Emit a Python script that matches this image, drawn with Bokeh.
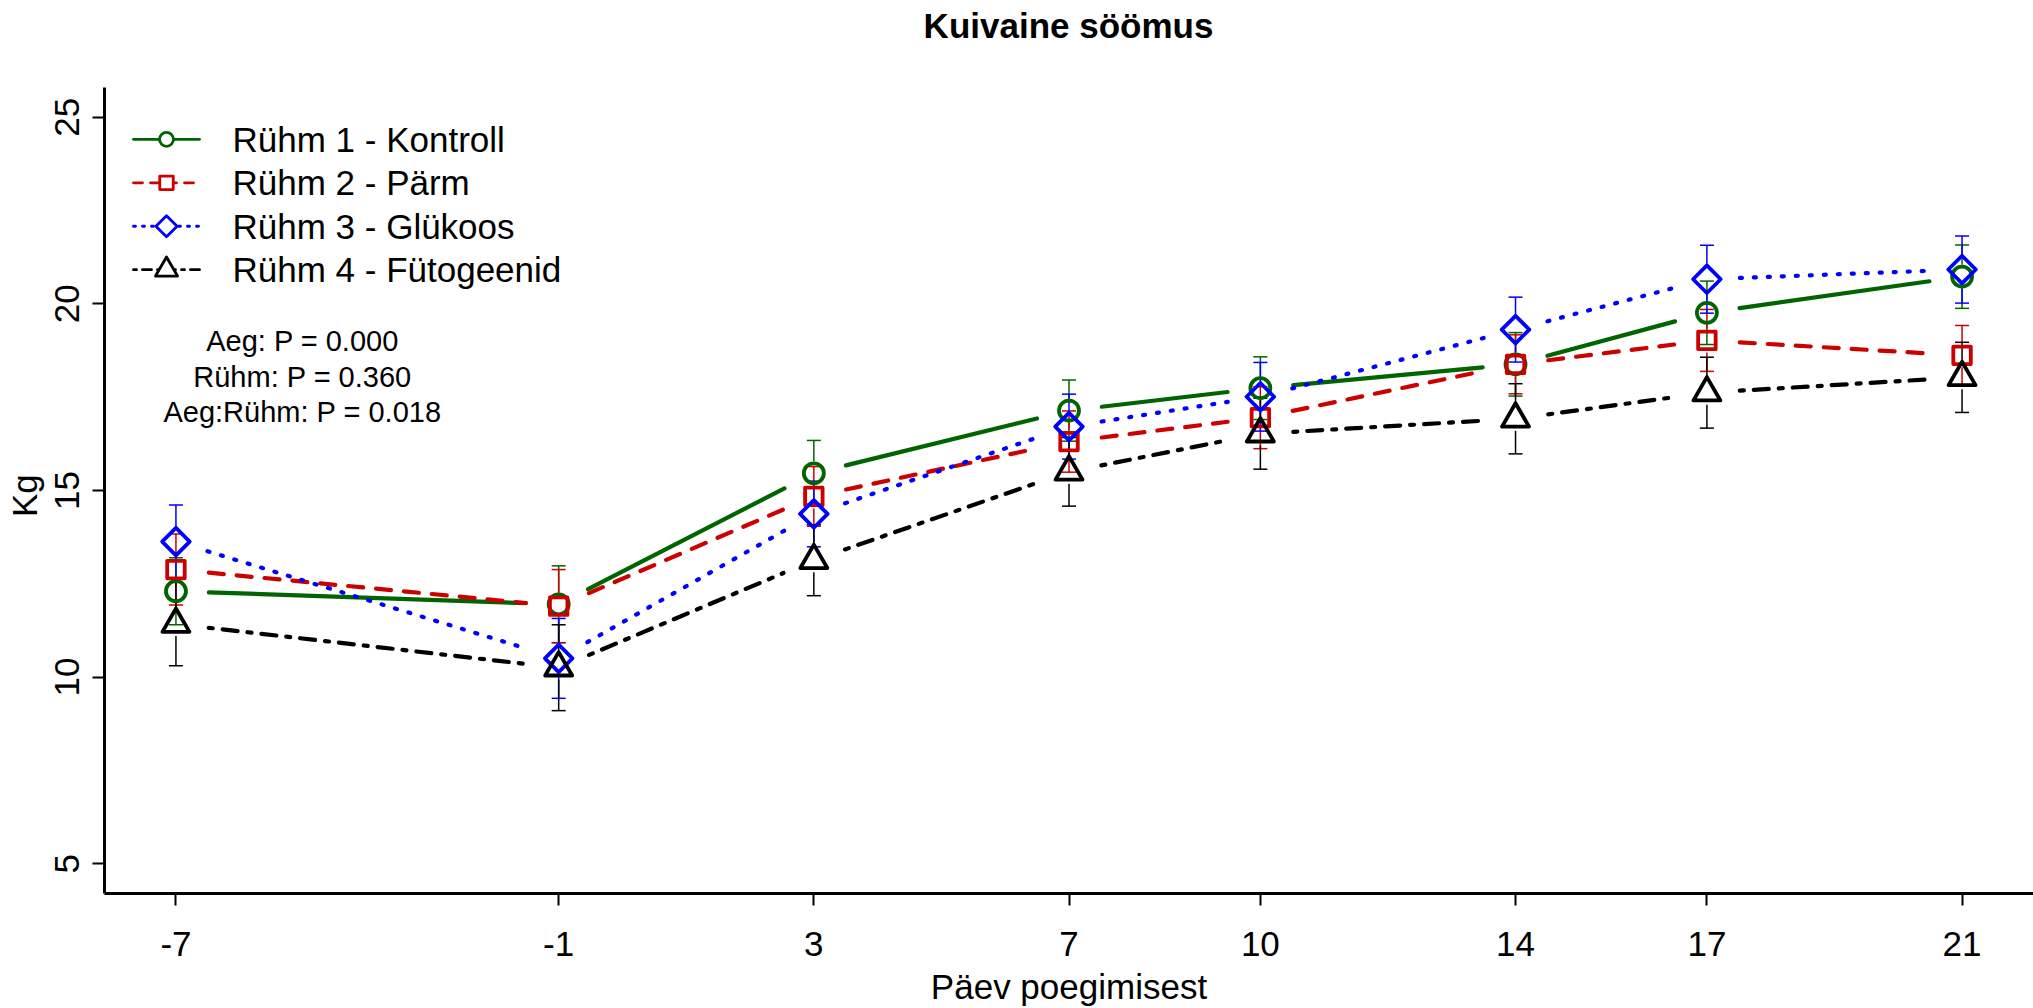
import math
from bokeh.plotting import figure
from bokeh.models import Range1d, FixedTicker, Label
from bokeh.embed import file_html
from bokeh.resources import INLINE

# ---------------- data ----------------
days = [-7, -1, 3, 7, 10, 14, 17, 21]
day_labels = ["-7", "-1", "3", "7", "10", "14", "17", "21"]
group_names = ["Rühm 1 - Kontroll", "Rühm 2 - Pärm", "Rühm 3 - Glükoos", "Rühm 4 - Fütogeenid"]
g1_mean = [12.30, 11.95, 15.46, 17.14, 17.74, 18.38, 19.76, 20.73]
g1_se = [0.90, 1.03, 0.88, 0.82, 0.84, 0.85, 0.85, 0.85]
g2_mean = [12.88, 11.90, 14.84, 16.31, 16.95, 18.38, 19.02, 18.62]
g2_se = [0.95, 0.98, 0.80, 0.82, 0.83, 0.79, 0.83, 0.80]
g3_mean = [13.63, 10.50, 14.37, 16.71, 17.51, 19.31, 20.66, 20.92]
g3_se = [0.98, 1.07, 0.88, 0.87, 0.92, 0.87, 0.91, 0.90]
g4_mean = [11.42, 10.25, 13.13, 15.50, 16.52, 16.92, 17.62, 18.03]
g4_se = [1.12, 1.15, 0.95, 0.92, 0.95, 0.94, 0.95, 0.94]
y_ticks = [5, 10, 15, 20, 25]
title_text = "Kuivaine söömus"
x_title = "Päev poegimisest"
y_title = "Kg"
stats_lines = ["Aeg: P = 0.000", "Rühm: P = 0.360", "Aeg:Rühm: P = 0.018"]

# ---------------- layout ----------------
W, H = 2033, 1008
LB, RB, BB = 104, 0, 114
AX_TOP = 87                      # pixel row where the plotting region (axis box) starts
X0, X1 = -8.12, 22.12
Y0, YA = 4.2, 25.8               # axis extent (R style 4 % extension of 5..25)
SX = (W - LB - RB) / (X1 - X0)
SY = (H - BB - AX_TOP) / (YA - Y0)
Y1 = Y0 + (H - BB) / SY          # frame extends to the top of the canvas


def px2x(px):
    return X0 + (px - LB) / SX


def py2y(py):
    return Y1 - py / SY


FONT = "Liberation Sans"

series = [
    dict(mean=g1_mean, se=g1_se, color="#006400", dash="solid", ldash="solid", marker="circle",
         angle=0.0, size=20, lsize=14),
    dict(mean=g2_mean, se=g2_se, color="#CD0000", dash="15 13", ldash="9 8", marker="square",
         angle=0.0, size=17.5, lsize=13.5),
    dict(mean=g3_mean, se=g3_se, color="#0000FF", dash="2 12", ldash="2 7", marker="square",
         angle=math.pi / 4, size=19.5, lsize=15),
    dict(mean=g4_mean, se=g4_se, color="#000000", dash="4 10 15 10", ldash="3 6 9 6",
         marker="triangle", angle=0.0, size=27, lsize=22),
]

p = figure(width=W, height=H, output_backend="svg", toolbar_location=None,
           x_range=Range1d(X0, X1), y_range=Range1d(Y0, Y1),
           min_border_left=LB, min_border_right=RB, min_border_top=0, min_border_bottom=BB)
p.outline_line_color = None
p.grid.grid_line_color = None
p.background_fill_color = "white"
p.border_fill_color = "white"

for ax in (p.xaxis[0], p.yaxis[0]):
    ax.axis_line_width = 3
    ax.axis_line_color = "black"
    ax.major_tick_line_color = "black"
    ax.major_tick_line_width = 2
    ax.major_tick_out = 12
    ax.major_tick_in = 0
    ax.minor_tick_line_color = None
    ax.major_label_text_font = FONT
    ax.major_label_text_font_size = "35px"
    ax.major_label_text_color = "black"
    ax.axis_label_text_font = FONT
    ax.axis_label_text_font_size = "35px"
    ax.axis_label_text_font_style = "normal"
    ax.axis_label_text_color = "black"

p.xaxis.ticker = FixedTicker(ticks=days)
p.xaxis.major_label_overrides = {d: t for d, t in zip(days, day_labels)}
p.yaxis.ticker = FixedTicker(ticks=y_ticks)
p.yaxis.bounds = (Y0, YA)
p.xaxis.major_label_standoff = 26
p.yaxis.major_label_standoff = 13
p.yaxis.major_label_orientation = "vertical"
p.xaxis.axis_label = x_title
# the axis label is centred on the (taller) frame; pad it so "Kg" sits mid-axis
p.yaxis.axis_label = y_title + "\u00a0" * 10
p.xaxis.axis_label_standoff = 8
p.yaxis.axis_label_standoff = 9

# ---------------- title (inside the tall frame, above the axis box) ----------------
p.add_layout(Label(x=px2x(1068), y=py2y(25), text=title_text, text_font=FONT, text_font_size="35px",
                   text_font_style="bold", text_color="black", text_baseline="alphabetic",
                   text_align="center"))

# ---------------- error bars ----------------
GAP_EB = 12.0 / SY
CAP = 7.0 / SX
for s in series:
    x0s, y0s, x1s, y1s = [], [], [], []
    for d, m, e in zip(days, s["mean"], s["se"]):
        if e > GAP_EB:
            x0s += [d, d]
            x1s += [d, d]
            y0s += [m + GAP_EB, m - GAP_EB]
            y1s += [m + e, m - e]
        x0s += [d - CAP, d - CAP]
        x1s += [d + CAP, d + CAP]
        y0s += [m + e, m - e]
        y1s += [m + e, m - e]
    p.segment(x0=x0s, y0=y0s, x1=x1s, y1=y1s, line_color=s["color"], line_width=1.5)

# ---------------- connecting lines with gaps (type = "b") ----------------
GAP_LN = 33.0
for s in series:
    x0s, y0s, x1s, y1s = [], [], [], []
    m = s["mean"]
    for i in range(len(days) - 1):
        ax_, ay_ = days[i] * SX, m[i] * SY
        bx_, by_ = days[i + 1] * SX, m[i + 1] * SY
        L = math.hypot(bx_ - ax_, by_ - ay_)
        if L <= 2 * GAP_LN:
            continue
        ux, uy = (bx_ - ax_) / L, (by_ - ay_) / L
        x0s.append((ax_ + ux * GAP_LN) / SX)
        y0s.append((ay_ + uy * GAP_LN) / SY)
        x1s.append((bx_ - ux * GAP_LN) / SX)
        y1s.append((by_ - uy * GAP_LN) / SY)
    p.segment(x0=x0s, y0=y0s, x1=x1s, y1=y1s, line_color=s["color"], line_width=4.2,
              line_dash=s["dash"], line_cap="round")

# ---------------- markers ----------------
for s in series:
    p.scatter(x=days, y=s["mean"], marker=s["marker"], angle=s["angle"], size=s["size"],
              line_color=s["color"], fill_color=None, line_width=3.8, line_join="round")

# ---------------- legend (drawn by hand) ----------------
leg_rows = [139, 182.5, 226, 269.5]
for s, name, row in zip(series, group_names, leg_rows):
    yy = py2y(row)
    p.segment(x0=[px2x(133)], y0=[yy], x1=[px2x(199)], y1=[yy], line_color=s["color"],
              line_width=2.8, line_dash=s["ldash"], line_cap="round")
    p.scatter(x=[px2x(166)], y=[yy], marker=s["marker"], angle=s["angle"], size=s["lsize"],
              line_color=s["color"], fill_color="white", line_width=2.8, line_join="round")
    p.add_layout(Label(x=px2x(232), y=yy, text=name, text_font=FONT, text_font_size="35px",
                       text_color="black", text_baseline="middle", text_align="left"))

# ---------------- statistics text ----------------
for line, base in zip(stats_lines, [341, 376.5, 412]):
    p.add_layout(Label(x=px2x(302), y=py2y(base), text=line, text_font=FONT, text_font_size="29px",
                       text_color="black", text_baseline="alphabetic", text_align="center"))

open("out.html", "w").write(file_html(p, INLINE))
